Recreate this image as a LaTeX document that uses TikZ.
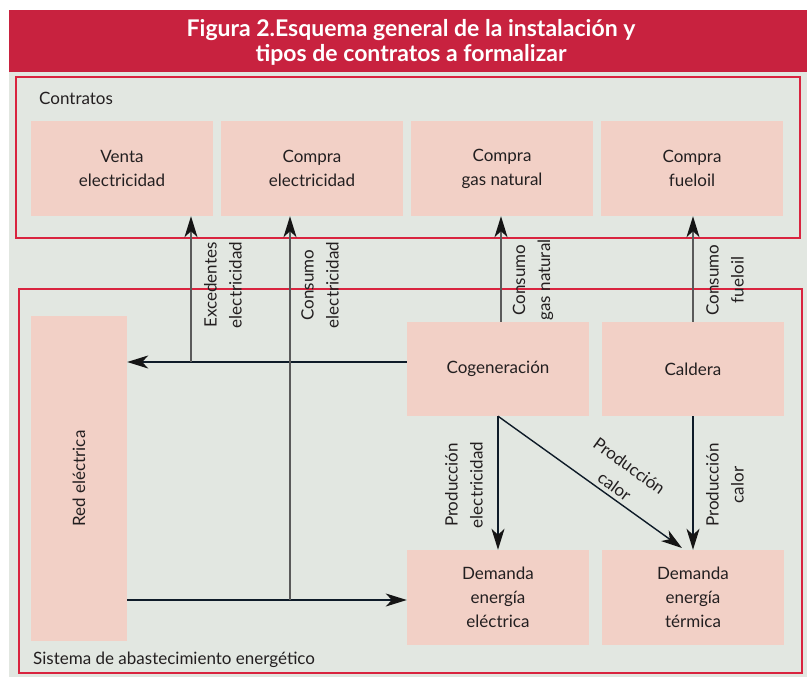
\documentclass[tikz,border=0pt]{standalone}
\usepackage{fontspec}
\setmainfont{Lato}
\usetikzlibrary{arrows.meta}
\definecolor{hdr}{HTML}{C8223F}
\definecolor{bg}{HTML}{E2E7E1}
\definecolor{pinkc}{HTML}{F2D0C6}
\definecolor{frame}{HTML}{D9243F}
\definecolor{gline}{HTML}{5A5A5A}
\definecolor{dline}{HTML}{0E1B28}
\definecolor{tipc}{HTML}{151515}
\definecolor{txt}{HTML}{231F20}
\tikzset{
  box/.style={fill=pinkc, draw=none, inner sep=0pt, align=center, text=txt,
    font=\fontsize{17}{24}\selectfont},
  lbl/.style={rotate=90, align=center, inner sep=0pt, text=txt,
    font=\fontsize{17}{25}\selectfont},
  tip/.style={-{Stealth[length=21pt,width=13pt,inset=6pt,color=tipc]}},
  garrow/.style={tip, draw=gline, line width=1.6pt},
  darrow/.style={tip, draw=dline, line width=1.4pt},
  frm/.style={draw=frame, line width=1.3pt},
}
\begin{document}
\begin{tikzpicture}[x=1pt,y=-1pt]
\useasboundingbox (0,0) rectangle (807,677);
\fill[white] (0,0) rectangle (807,677);
\fill[hdr] (9,10) rectangle (807,72);
\fill[bg] (9,72) rectangle (807,677);
\node[text=white, align=center, font=\bfseries\fontsize{23}{25}\selectfont] (title) at (411,42)
  {Figura 2.Esquema general de la instalación y\\tipos de contratos a formalizar};
% frames
\draw[frm] (16,77) rectangle (800,238);
\draw[frm] (19,289) rectangle (802,673);
\node[anchor=west, text=txt, font=\fontsize{17}{18}\selectfont, inner sep=0pt] (contratos) at (39,98) {Contratos};
\node[anchor=west, text=txt, font=\fontsize{17}{18}\selectfont, inner sep=0pt] (sistema) at (33,660) {Sistema de abastecimiento energético};
% boxes
\node[box, minimum width=182pt, minimum height=95pt] (venta) at (122,168.5) {Venta\\electricidad};
\node[box, minimum width=182pt, minimum height=95pt] (compra) at (312,168.5) {Compra\\electricidad};
\node[box, minimum width=182pt, minimum height=95pt] (gas) at (502,168.5) {Compra\\gas natural};
\node[box, minimum width=182pt, minimum height=95pt] (fuel) at (692,168.5) {Compra\\fueloil};
\node[box, minimum width=96pt, minimum height=325pt] (red) at (79,478.5) {};
\node[rotate=90, text=txt, font=\fontsize{17}{18}\selectfont, inner sep=0pt] (redtxt) at (red.center) {Red eléctrica};
\node[box, minimum width=182pt, minimum height=94pt] (cog) at (498,369) {Cogeneración};
\node[box, minimum width=182pt, minimum height=94pt] (cal) at (693,369) {Caldera};
\node[box, minimum width=182pt, minimum height=95pt] (deme) at (498,597.5) {Demanda\\energía\\eléctrica};
\node[box, minimum width=182pt, minimum height=95pt] (demt) at (693,597.5) {Demanda\\energía\\térmica};
% helper coordinates
\coordinate (exc) at (191,362);
\coordinate (ce) at (290,600);
\coordinate (gx) at (501,0);
\coordinate (fx) at (693,0);
\coordinate (dt) at (682,548);
% connectors
\draw[darrow] (cog.west |- exc) -- (red.east |- exc);
\draw[darrow] (red.east |- ce) -- (deme.west |- ce);
\draw[garrow] (exc) -- (venta.south -| exc);
\draw[garrow] (ce) -- (compra.south -| ce);
\draw[garrow] (cog.north -| gx) -- (gas.south -| gx);
\draw[garrow] (cal.north -| fx) -- (fuel.south -| fx);
\draw[darrow] (cog.south) -- (deme.north);
\draw[darrow] (cal.south) -- (demt.north);
\draw[darrow] (cog.south) -- (dt);
% labels
\node[lbl] (l1) at (223,285) {Excedentes\\electricidad};
\node[lbl] (l2) at (320,285) {Consumo\\electricidad};
\node[lbl] (l3) at (533,280) {Consumo\\gas natural};
\node[lbl] (l4) at (725,280) {Consumo\\fueloil};
\node[lbl] (l5) at (464,485) {Producción\\electricidad};
\node[lbl] (l6) at (725,485) {Producción\\calor};
\node[lbl, rotate=-126] (l7) at (622,476) {Producción\\calor};
\end{tikzpicture}
\end{document}
